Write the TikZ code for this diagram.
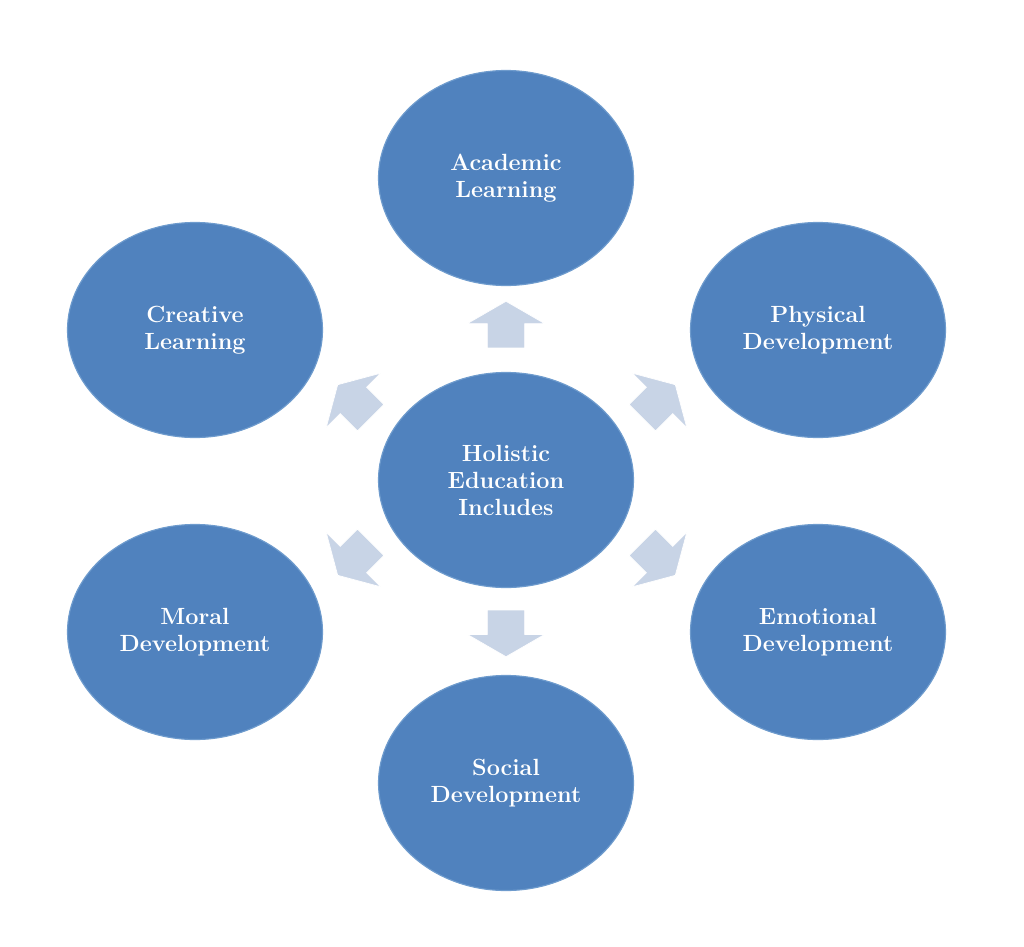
\documentclass[tikz,border=0pt]{standalone}
\usetikzlibrary{shapes.geometric,shapes.arrows}
\definecolor{discblue}{RGB}{80,130,190}
\definecolor{discedge}{RGB}{110,155,205}
\definecolor{arrowfill}{RGB}{200,212,230}
\tikzset{
  disc/.style={ellipse, fill=discblue, draw=discedge, line width=1pt,
    minimum width=7.65cm, minimum height=6.45cm, align=center, text=white,
    font=\fontsize{20}{23}\selectfont\bfseries},
  blockarrow/.style={single arrow, fill=arrowfill, draw=white, line width=0.6pt,
    minimum height=1.4cm, single arrow head extend=0.6cm,
    single arrow tip angle=120, inner xsep=0pt, inner ysep=0.55cm}
}
\begin{document}
\begin{tikzpicture}[x=0.03cm,y=-0.03cm]
    \useasboundingbox (0,0) rectangle (1024,947);
    % centre
    \node[disc] (hol) at (506,480) {Holistic\\Education\\Includes};
    % outer ring
    \node[disc] (aca) at (506,178) {Academic\\Learning};
    \node[disc] (cre) at (195,330) {Creative\\Learning};
    \node[disc] (phy) at (818,330) {Physical\\Development};
    \node[disc] (mor) at (195,632) {Moral\\Development};
    \node[disc] (emo) at (818,632) {Emotional\\Development};
    \node[disc] (soc) at (506,783) {Social\\Development};
    % arrows
    \node[blockarrow, rotate=90] (a1) at (506,330) {};
    \node[blockarrow, rotate=270] (a2) at (506,628) {};
    \node[blockarrow, rotate=135] (a3) at (358,405) {};
    \node[blockarrow, rotate=45] (a4) at (655,405) {};
    \node[blockarrow, rotate=225] (a5) at (358,555) {};
    \node[blockarrow, rotate=315] (a6) at (655,555) {};
\end{tikzpicture}
\end{document}
